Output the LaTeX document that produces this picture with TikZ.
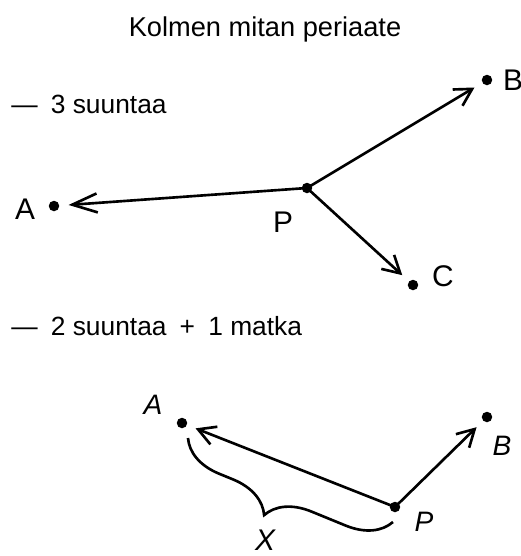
\documentclass[tikz,border=0pt]{standalone}
\usepackage{fontspec}
\setmainfont{Liberation Sans}
\usetikzlibrary{arrows.meta,decorations.pathreplacing}

\begin{document}
\begin{tikzpicture}[x=0.02cm, y=-0.02cm, line width=1.5pt,
  every node/.style={font=\fontsize{15}{18}\selectfont},
  pt/.style={circle, fill, inner sep=0pt, minimum size=0.21cm},
  ray/.style={-{Straight Barb[length=3.4mm, width=3.8mm]}, shorten >=1.6mm},
  lbl/.style={font=\fontsize{17}{18}\selectfont},
  ilbl/.style={font=\fontsize{16}{18}\selectfont\itshape}]
  \useasboundingbox (0,0) rectangle (521,556);
  % Title
  \node[anchor=base, inner sep=0pt] (title) at (265,36) {\fontsize{15.5}{18}\selectfont Kolmen mitan periaate};
  % Case 1: 3 suuntaa
  \node[anchor=base west, inner sep=0pt] (case1) at (10,113) {—\enspace 3 suuntaa};
  \node[pt] (A1) at (54,206) {};
  \node[pt] (P1) at (307,188) {};
  \node[pt] (B1) at (487,80) {};
  \node[pt] (C1) at (413,285) {};
  \node[lbl] (lA1) at (25,209) {A};
  \node[lbl] (lP1) at (283,222) {P};
  \node[lbl] (lB1) at (513,80) {B};
  \node[lbl] (lC1) at (443,276) {C};
  \draw[ray, -{Straight Barb[length=5mm, width=3.8mm]}] (P1.center) -- (A1);
  \draw[ray] (P1.center) -- (B1);
  \draw[ray] (P1.center) -- (C1);
  % Case 2: 2 suuntaa + 1 matka
  \node[anchor=base west, inner sep=0pt] (case2) at (10,335) {—\enspace 2 suuntaa\enspace +\enspace 1 matka};
  \node[pt] (A2) at (182,423) {};
  \node[pt] (P2) at (395,507) {};
  \node[pt] (B2) at (487,417) {};
  \node[ilbl] (lA2) at (153,405) {A};
  \node[ilbl] (lP2) at (424,522) {P};
  \node[ilbl] (lB2) at (502,446) {B};
  \draw[ray] (P2.center) -- (A2);
  \draw[ray] (P2.center) -- (B2);
  % Distance brace
  \coordinate (xs) at (188,438);
  \coordinate (xe) at (393,522);
  \draw[decorate, decoration={brace, amplitude=0.85cm, aspect=0.45, mirror}] (xs) -- (xe);
  \node[inner sep=1pt, font=\fontsize{17}{18}\selectfont\itshape] (lX) at (265,540) {X};
\end{tikzpicture}
\end{document}
